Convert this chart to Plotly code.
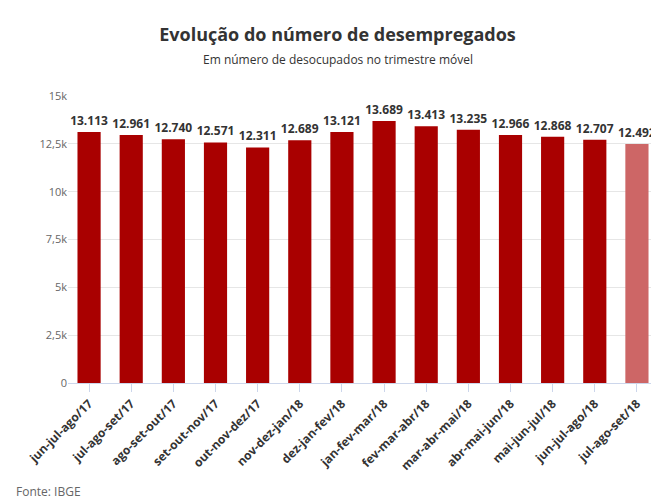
import plotly.graph_objects as go

periodos = ["jun-jul-ago/17", "jul-ago-set/17", "ago-set-out/17", "set-out-nov/17",
            "out-nov-dez/17", "nov-dez-jan/18", "dez-jan-fev/18", "jan-fev-mar/18",
            "fev-mar-abr/18", "mar-abr-mai/18", "abr-mai-jun/18", "mai-jun-jul/18",
            "jun-jul-ago/18", "jul-ago-set/18"]
desocupados = [13113, 12961, 12740, 12571, 12311, 12689, 13121, 13689,
               13413, 13235, 12966, 12868, 12707, 12492]
tick_vals = [0, 2500, 5000, 7500, 10000, 12500, 15000]
tick_text = ["0", "2,5k", "5k", "7,5k", "10k", "12,5k", "15k"]

cores = ["#a90000"] * (len(desocupados) - 1) + ["#cd6666"]
rotulos = [f"<b>{v:,}</b>".replace(",", ".") for v in desocupados]

fig = go.Figure(go.Bar(
    x=periodos, y=desocupados, marker=dict(color=cores, line=dict(width=0)),
    text=rotulos, textposition="outside", cliponaxis=False, constraintext="none",
    textfont=dict(size=12, color="#333333", family="Open Sans"),
    width=0.55,
))

fig.update_layout(
    width=659, height=503,
    paper_bgcolor="white", plot_bgcolor="white",
    font=dict(family="Open Sans", color="#666666"),
    margin=dict(l=60, r=9, t=88, b=128, autoexpand=False),
    showlegend=False,
    uniformtext=dict(mode=False),
    title=dict(text="<b>Evolução do número de desempregados</b>", x=0.5, y=0.96,
               xanchor="center", font=dict(size=18, color="#333333")),
    annotations=[
        dict(text="Em número de desocupados no trimestre móvel", x=(330 - 60) / 590,
             y=1 + (88 - 52) / 287, xref="paper", yref="paper", yanchor="middle",
             showarrow=False, font=dict(size=12, color="#333333")),
        dict(text="Fonte: IBGE", x=-(60 - 6) / 590, y=-(483 - 375) / 287, xref="paper",
             yref="paper", showarrow=False, xanchor="left", yanchor="middle",
             font=dict(size=12, color="#666666")),
    ],
    xaxis=dict(tickangle=-45, tickfont=dict(size=12, color="#333333"),
               tickvals=periodos, ticktext=[f"<b>{p}</b>" for p in periodos],
               showline=True, linecolor="#ccd6eb", ticks="outside", tickcolor="#ccd6eb",
               ticklen=8, automargin=False),
    yaxis=dict(range=[0, 15000], tickvals=tick_vals, ticktext=tick_text, automargin=False,
               gridcolor="#e6e6e6", zeroline=False, tickfont=dict(size=11, color="#666666")),
)

fig.write_html("out.html")
